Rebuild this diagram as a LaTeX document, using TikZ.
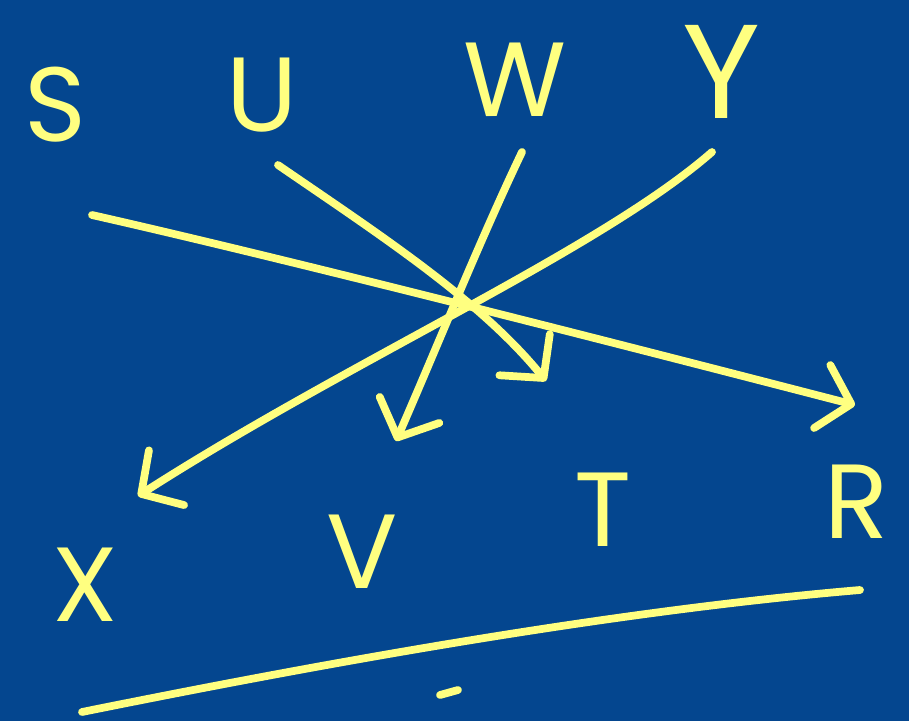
\documentclass[tikz,border=0pt]{standalone}
\usepackage{fontspec}
\setmainfont{Poppins}
\usetikzlibrary{arrows.meta}
\definecolor{boardblue}{RGB}{4,70,143}
\definecolor{chalk}{RGB}{255,255,128}
\tikzset{
  letter/.style={text=chalk, font=\fontsize{30}{34}\selectfont, inner sep=0pt},
  stroke/.style={draw=chalk, line width=2.2pt, line cap=round, line join=round},
  arrow/.style={stroke, -{Straight Barb[length=3mm, width=6.5mm, line cap=round, line join=round]}},
}

\begin{document}
\begin{tikzpicture}[x=0.01cm, y=-0.01cm]
  \fill[boardblue] (0,0) rectangle (909,721);
  \useasboundingbox (0,0) rectangle (909,721);

  % top row
  \node[letter] (s) at (55,105) {S};
  \node[letter] (u) at (262,95) {U};
  \node[letter] (w) at (515,80) {W};
  \node[letter, font=\fontsize{38}{42}\selectfont] (y) at (722,72) {Y};

  % bottom row
  \node[letter] (x) at (85,585) {X};
  \node[letter] (v) at (362,552) {V};
  \node[letter] (t) at (603,510) {T};
  \node[letter] (r) at (857,502) {R};

  % arrow ends
  \coordinate (s0) at (92,215);
  \coordinate (r0) at (855,405);
  \coordinate (u0) at (278,165);
  \coordinate (t0) at (546,381);
  \coordinate (w0) at (522,152);
  \coordinate (v0) at (396,441);
  \coordinate (y0) at (712,152);
  \coordinate (x0) at (138,496);

  \draw[arrow] (s0) .. controls (300,262) and (650,352) .. (r0);
  \draw[arrow] (u0) .. controls (380,235) and (480,300) .. (t0);
  \draw[arrow] (w0) .. controls (480,240) and (440,340) .. (v0);
  \draw[arrow] (y0) .. controls (600,250) and (350,360) .. (x0);

  % base line
  \coordinate (b0) at (82,712);
  \coordinate (b1) at (860,590);
  \coordinate (m0) at (440,695);
  \coordinate (m1) at (458,690);
  \draw[stroke] (b0) .. controls (300,668) and (600,612) .. (b1);
  \draw[stroke] (m0) -- (m1);
\end{tikzpicture}
\end{document}
